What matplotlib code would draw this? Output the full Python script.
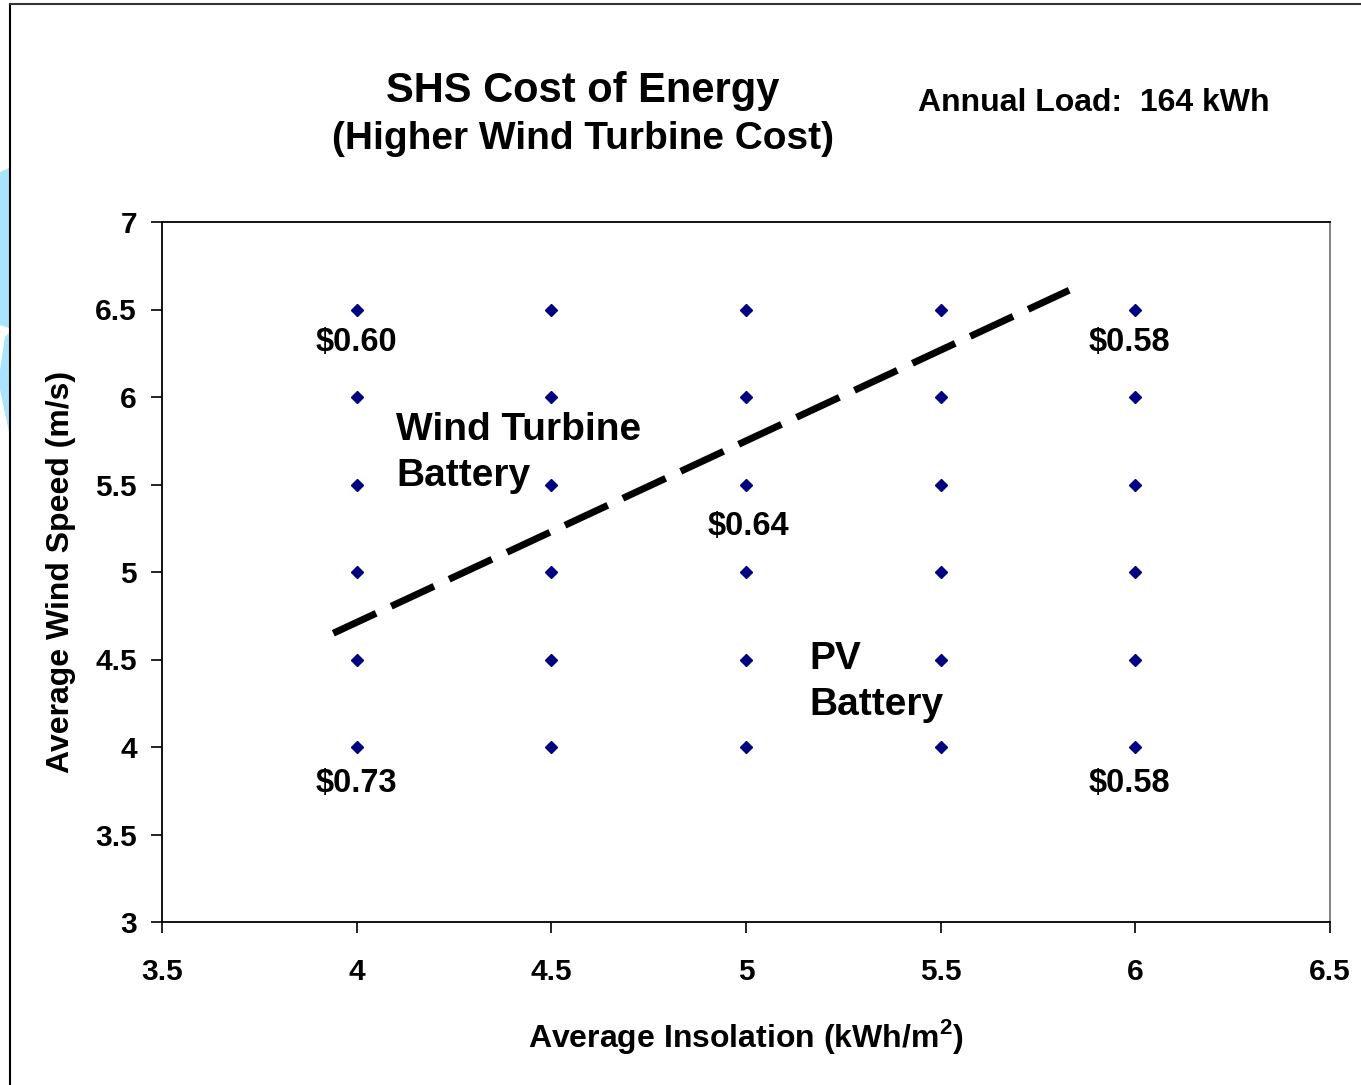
import matplotlib
import matplotlib.pyplot as plt
from matplotlib.lines import Line2D
from matplotlib.patches import Polygon

matplotlib.use('agg')

plt.rcParams['font.family'] = ['Liberation Sans', 'DejaVu Sans']
plt.rcParams['font.weight'] = 'bold'
plt.rcParams['mathtext.fontset'] = 'custom'
plt.rcParams['mathtext.rm'] = 'Liberation Sans:bold'
plt.rcParams['mathtext.bf'] = 'Liberation Sans:bold'

# data
insolation = [4, 4.5, 5, 5.5, 6]
wind_speed = [4, 4.5, 5, 5.5, 6, 6.5]
boundary_x = [3.94, 5.83]
boundary_y = [4.65, 6.61]
cost_labels = ['$0.60', '$0.58', '$0.73', '$0.58', '$0.64']
cost_x = [4.0, 5.985, 4.0, 5.985, 5.005]
cost_y = [6.31, 6.31, 3.79, 3.79, 5.26]
xticks = [3.5, 4, 4.5, 5, 5.5, 6, 6.5]
yticks = [3, 3.5, 4, 4.5, 5, 5.5, 6, 6.5, 7]

W, H = 1361, 1085
fig = plt.figure(figsize=(W / 100, H / 100), dpi=100)
ax = fig.add_axes([162 / W, 1 - 922 / H, 1168 / W, 700 / H])

# decorative slide frame and blue shape on the left edge
fig.add_artist(Line2D([10 / W, 10 / W], [1 - 4 / H, 0], color='black', lw=1.5))
fig.add_artist(Line2D([10 / W, 1], [1 - 4 / H, 1 - 4 / H], color='#333333', lw=1.5))
for pts in ([(0, 172), (9, 168), (9, 328), (0, 325)],
            [(5, 337), (9, 333), (9, 432), (0, 390), (0, 370)]):
    fig.add_artist(Polygon([(x / W, 1 - y / H) for x, y in pts],
                           closed=True, color='#aae4fc', lw=0))

gx = [x for x in insolation for _ in wind_speed]
gy = [y for _ in insolation for y in wind_speed]
ax.plot(gx, gy, linestyle='none', marker='D', markersize=6.5,
        color='#000080', zorder=3)

ax.plot(boundary_x, boundary_y, color='black', lw=5,
        dashes=(6.8, 2.4), solid_capstyle='butt')

for lab, x, y in zip(cost_labels, cost_x, cost_y):
    ax.text(x, y, lab.replace('$', r'\$'), ha='center', va='center',
            fontsize=23.5, fontweight='bold')

ax.text(4.101, 5.68, 'Wind Turbine\nBattery', ha='left', va='center',
        fontsize=28, fontweight='bold', linespacing=1.35)
ax.text(5.162, 4.37, 'PV\nBattery', ha='left', va='center',
        fontsize=28, fontweight='bold', linespacing=1.35)

ax.set_xlim(3.5, 6.5)
ax.set_ylim(3, 7)
ax.set_xticks(xticks)
ax.set_yticks(yticks)
ax.set_xticklabels([f'{t:g}' for t in xticks])
ax.set_yticklabels([f'{t:g}' for t in yticks])
ax.tick_params(direction='out', length=8, width=1.2, labelsize=21.5)
ax.tick_params(axis='x', pad=18)
ax.tick_params(axis='y', pad=10)
for lbl in ax.get_xticklabels() + ax.get_yticklabels():
    lbl.set_fontweight('bold')
ax.spines['left'].set_linewidth(1.3)
ax.spines['bottom'].set_linewidth(1.3)
ax.spines['top'].set_linewidth(1.3)
ax.spines['right'].set_color('#777777')
ax.spines['right'].set_linewidth(1.3)

ax.set_xlabel(r'Average Insolation (kWh/m$^{\mathbf{2}}$)', fontsize=23,
              fontweight='bold', labelpad=22)
ax.set_ylabel('Average Wind Speed (m/s)', fontsize=23, fontweight='bold',
              labelpad=14)

fig.text(583 / W, 1 - 91 / H, 'SHS Cost of Energy', ha='center', va='center',
         fontsize=30, fontweight='bold')
fig.text(583 / W, 1 - 139 / H, '(Higher Wind Turbine Cost)', ha='center',
         va='center', fontsize=28, fontweight='bold')
fig.text(918 / W, 1 - 103 / H, 'Annual Load:  164 kWh', ha='left',
         va='center', fontsize=23, fontweight='bold')

fig.savefig('out.png', dpi=100)
